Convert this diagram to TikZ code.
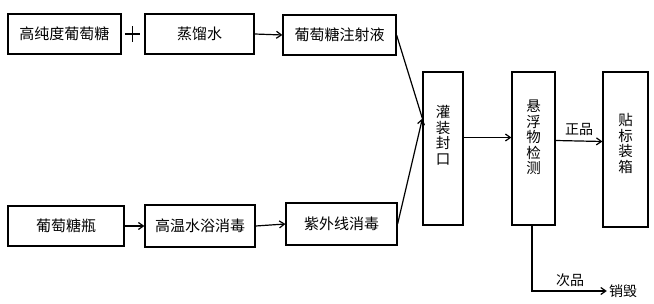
\documentclass[tikz,border=0pt]{standalone}
\usepackage{fontspec}
\usepackage{tikz}
\usetikzlibrary{arrows.meta, positioning, calc}
\newfontfamily\cjk{Noto Sans CJK SC}

\begin{document}
\begin{tikzpicture}[x=1pt, y=-1pt,
    box/.style={draw=black, line width=1.2pt, inner sep=0pt, font=\cjk\fontsize{15}{17}\selectfont},
    vtext/.style={align=center, inner sep=0pt, font=\cjk\fontsize{14.5}{15.5}\selectfont},
    flow/.style={line width=1.2pt, -{Straight Barb[length=5pt, width=7pt, line width=1.2pt]}},
    tag/.style={font=\cjk\fontsize{14}{15}\selectfont, inner sep=1pt}
]
\useasboundingbox (0,0) rectangle (654,304);

% --- top row ---
\node[box, minimum width=113pt, minimum height=40pt] (sugar) at (64.5, 34) {高纯度葡萄糖};
\node[box, minimum width=109pt, minimum height=40pt] (water) at (199.5, 34) {蒸馏水};
\node[box, minimum width=113pt, minimum height=40pt] (inject) at (339.5, 35) {葡萄糖注射液};
\node[inner sep=0pt, minimum size=15pt] (plus) at (132.5, 34) {};
\draw[line width=1.8pt] (plus.west) -- (plus.east) (plus.north) -- (plus.south);

% --- bottom row ---
\node[box, minimum width=116pt, minimum height=40pt] (bottle) at (66, 226) {葡萄糖瓶};
\node[box, minimum width=110pt, minimum height=42pt] (bath) at (200, 226) {高温水浴消毒};
\node[box, minimum width=111pt, minimum height=42pt] (uv) at (341.5, 224) {紫外线消毒};

% --- vertical steps ---
\node[box, minimum width=40pt, minimum height=153pt] (fill) at (443, 148.5) {};
\node[vtext] at ([yshift=13pt]fill.center) {灌\\装\\封\\口};
\node[box, minimum width=43pt, minimum height=153pt] (check) at (533.5, 148.5) {};
\node[vtext] at ([yshift=11pt]check.center) {悬\\浮\\物\\检\\测};
\node[box, minimum width=45pt, minimum height=155pt] (pack) at (625.5, 149.5) {};
\node[vtext] at ([yshift=6pt]pack.center) {贴\\标\\装\\箱};

% --- connectors ---
\draw[flow] (water.east) -- (inject.west);
\draw[flow] (bottle.east) -- (bath.west);
\draw[flow] (bath.east) -- (uv.west);
\coordinate (merge) at ([yshift=30pt]fill.west);
\draw[line width=1.2pt] (inject.east) -- (merge);
\draw[flow] (uv.east) -- (merge);
\draw[flow] ([yshift=11pt]fill.east) -- ([yshift=11pt]check.west);
\draw[flow] ([yshift=8pt]check.east) -- node[tag, above=4pt] (good) {正品} ([yshift=8pt]pack.west);

% --- reject branch ---
\node[tag, inner sep=2pt] (destroy) at (623, 291) {销毁};
\coordinate (turn) at ([xshift=-1.5pt]check.south |- destroy.west);
\draw[flow] ([xshift=-1.5pt]check.south) -- (turn) -- (destroy.west);
\node[tag] (bad) at (570, 280) {次品};
\end{tikzpicture}
\end{document}
